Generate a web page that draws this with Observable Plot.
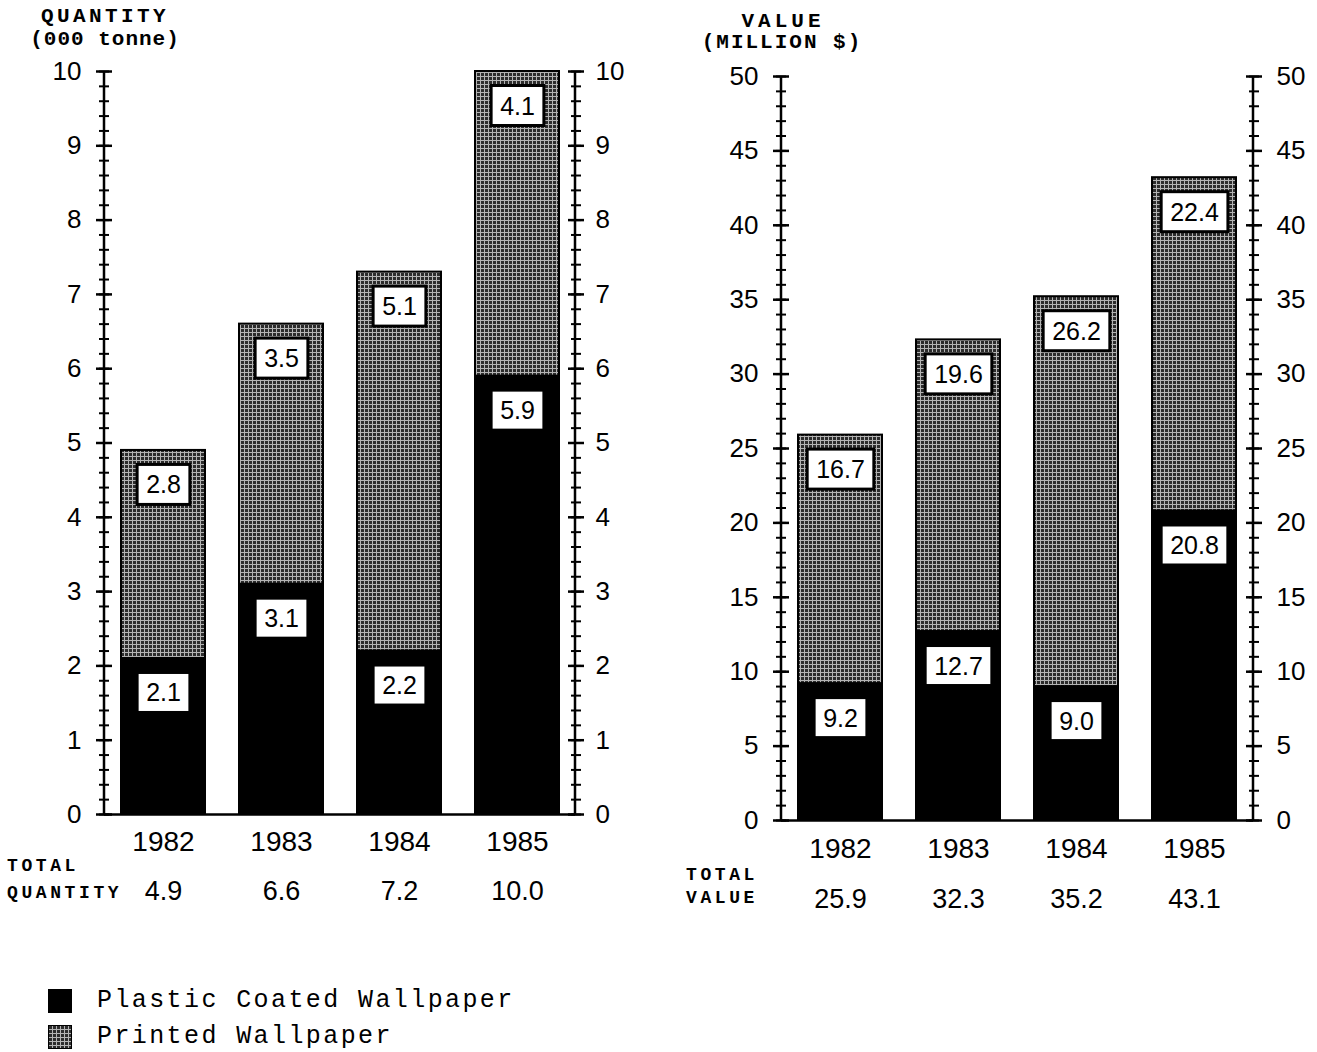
<!DOCTYPE html>
<html>
<head>
<meta charset="utf-8">
<script src="https://cdn.jsdelivr.net/npm/d3@7"></script>
<script src="https://cdn.jsdelivr.net/npm/@observablehq/plot@0.6"></script>
<style>
  body { margin: 0; background: #fff; }
  #wrap { position: relative; width: 1317px; height: 1052px; overflow: hidden; background: #fff; }
  .panel { position: absolute; top: 0; }
  .ttl { position: absolute; font-family: "Liberation Mono", monospace; font-weight: bold; font-size: 21px;
         white-space: nowrap; transform: translate(-50%, -50%); color: #000; line-height: 1; }
  .tot { position: absolute; font-family: "Liberation Mono", monospace; font-weight: bold; font-size: 18px;
         letter-spacing: 3.6px; white-space: nowrap; transform: translateY(-50%); color: #000; line-height: 1; }
  .leg { position: absolute; left: 48px; display: flex; align-items: center; }
  .sw { width: 24px; height: 24px; margin-right: 25px; }
  .leg span { font-family: "Liberation Mono", monospace; font-size: 25px; letter-spacing: 2.4px; color: #000; white-space: nowrap; }
</style>
</head>
<body>
<svg width="0" height="0" style="position:absolute">
  <defs>
    <pattern id="printedPat" width="4" height="4" patternUnits="userSpaceOnUse">
      <rect width="4" height="4" fill="#2c2c2c"></rect>
      <path d="M0 0.5H4M0.5 0V4" stroke="#b4b4b4" stroke-width="1"></path>
    </pattern>
  </defs>
</svg>
<div id="wrap">
  <div class="ttl" style="left:105px;top:16px;letter-spacing:3.4px">QUANTITY</div>
  <div class="ttl" style="left:105px;top:39px;letter-spacing:1px">(000 tonne)</div>
  <div class="ttl" style="left:783px;top:21px;letter-spacing:4px">VALUE</div>
  <div class="ttl" style="left:782px;top:42px;letter-spacing:2px">(MILLION $)</div>
  <div class="tot" style="left:7px;top:866px">TOTAL</div>
  <div class="tot" style="left:7px;top:893px">QUANTITY</div>
  <div class="tot" style="left:686px;top:875px">TOTAL</div>
  <div class="tot" style="left:686px;top:898px">VALUE</div>
  <div id="left" class="panel" style="left:0px"></div>
  <div id="right" class="panel" style="left:660px"></div>
  <div id="legend"></div>
</div>
<script>
const years = ["1982", "1983", "1984", "1985"];
const types = ["Plastic Coated Wallpaper", "Printed Wallpaper"];

const quantityPlastic = [2.1, 3.1, 2.2, 5.9];
const quantityPrinted = [2.8, 3.5, 5.1, 4.1];
const quantityTotals = ["4.9", "6.6", "7.2", "10.0"];

const valuePlastic = [9.2, 12.7, 9.0, 20.8];
const valuePrinted = [16.7, 19.6, 26.2, 22.4];
const valueTotals = ["25.9", "32.3", "35.2", "43.1"];

const typeColors = ["#000", "url(#printedPat)"];
const numFont = "Liberation Sans, Arial, sans-serif";
const fmt = d3.format(".1f");
const noText = () => "";

function buildPanel(cfg) {
  const data = years.flatMap((yr, i) => [
    {year: yr, type: types[0], value: cfg.plastic[i]},
    {year: yr, type: types[1], value: cfg.printed[i]}
  ]);
  const totalByYear = new Map(years.map((yr, i) => [yr, cfg.totals[i]]));
  const plot = Plot.plot({
    width: cfg.width, height: cfg.height,
    marginTop: cfg.mt, marginBottom: cfg.mb, marginLeft: cfg.ml, marginRight: cfg.mr,
    style: {background: "transparent", color: "#000", overflow: "visible"},
    x: {domain: years, paddingInner: 0.29, paddingOuter: 0.13, axis: null, label: null},
    y: {domain: cfg.domain, axis: null, label: null},
    color: {domain: types, range: typeColors},
    marks: [
      Plot.barY(data, {x: "year", y: "value", fill: "type", stroke: "#000", strokeWidth: 2}),
      Plot.text(data, Plot.stackY2({x: "year", y: "value", text: d => fmt(d.value), dy: 35,
        fontSize: 25, fontFamily: numFont, fill: "#000", lineAnchor: "middle"})),
      Plot.ruleY([cfg.domain[0]], {stroke: "#000", strokeWidth: 2.5}),
      Plot.axisY({anchor: "left", ticks: 10, tickSize: 16, dx: 8, strokeWidth: 2.5, tickFormat: noText, label: null}),
      Plot.axisY({anchor: "left", ticks: 50, tickSize: 10, dx: 5, strokeWidth: 2, tickFormat: noText, label: null}),
      Plot.axisY({anchor: "right", ticks: 10, tickSize: 16, dx: -8, strokeWidth: 2.5, tickFormat: noText, label: null}),
      Plot.axisY({anchor: "right", ticks: 50, tickSize: 10, dx: -5, strokeWidth: 2, tickFormat: noText, label: null}),
      Plot.axisY({anchor: "left", ticks: 10, tickSize: 0, tickPadding: cfg.padL, fontSize: 26, fontFamily: numFont, label: null}),
      Plot.axisY({anchor: "right", ticks: 10, tickSize: 0, tickPadding: cfg.padR, fontSize: 26, fontFamily: numFont, label: null}),
      Plot.axisX({anchor: "bottom", tickSize: 0, tickPadding: cfg.yearPad, fontSize: 28, fontFamily: numFont, label: null}),
      Plot.axisX({anchor: "bottom", tickSize: 0, tickPadding: cfg.totalPad, fontSize: 27, fontFamily: numFont, label: null,
        tickFormat: yr => totalByYear.get(yr)})
    ]
  });
  document.getElementById(cfg.target).appendChild(plot);

  // vertical axis lines at both edges of the frame, from the plot's own scales
  const xr = plot.scale("x").range, yr = plot.scale("y").range;
  const svg = d3.select(plot);
  svg.append("g").selectAll("line").data(xr).join("line")
    .attr("x1", d => d).attr("x2", d => d)
    .attr("y1", yr[0]).attr("y2", yr[1])
    .attr("stroke", "#000").attr("stroke-width", 2.5);

  // white boxes behind bar labels
  svg.selectAll('g[aria-label="text"] text').each(function () {
    const b = this.getBBox();
    const r = document.createElementNS("http://www.w3.org/2000/svg", "rect");
    r.setAttribute("x", b.x - 9);
    r.setAttribute("y", b.y - 6);
    r.setAttribute("width", b.width + 18);
    r.setAttribute("height", b.height + 12);
    r.setAttribute("fill", "#fff");
    r.setAttribute("stroke", "#000");
    r.setAttribute("stroke-width", 3);
    const t = this.getAttribute("transform");
    if (t) r.setAttribute("transform", t);
    this.parentNode.insertBefore(r, this);
  });
}

buildPanel({target: "left", plastic: quantityPlastic, printed: quantityPrinted, totals: quantityTotals,
  domain: [0, 10], width: 660, height: 920, mt: 71, mb: 106, ml: 104, mr: 85,
  padL: 23, padR: 20, yearPad: 17, totalPad: 66});
buildPanel({target: "right", plastic: valuePlastic, printed: valuePrinted, totals: valueTotals,
  domain: [0, 50], width: 657, height: 920, mt: 76, mb: 100, ml: 121, mr: 64,
  padL: 23, padR: 23, yearPad: 18, totalPad: 68});

// legend
const legend = document.getElementById("legend");
types.forEach((t, i) => {
  const row = document.createElement("div");
  row.className = "leg";
  row.style.top = (986 + i * 36) + "px";
  const sw = document.createElementNS("http://www.w3.org/2000/svg", "svg");
  sw.setAttribute("class", "sw");
  sw.setAttribute("width", 24); sw.setAttribute("height", 24);
  const rr = document.createElementNS("http://www.w3.org/2000/svg", "rect");
  rr.setAttribute("width", 24); rr.setAttribute("height", 24);
  rr.setAttribute("fill", typeColors[i]); rr.setAttribute("stroke", "#000"); rr.setAttribute("stroke-width", 2);
  sw.appendChild(rr);
  const sp = document.createElement("span");
  sp.textContent = t;
  row.appendChild(sw); row.appendChild(sp);
  legend.appendChild(row);
});
</script>
</body>
</html>
